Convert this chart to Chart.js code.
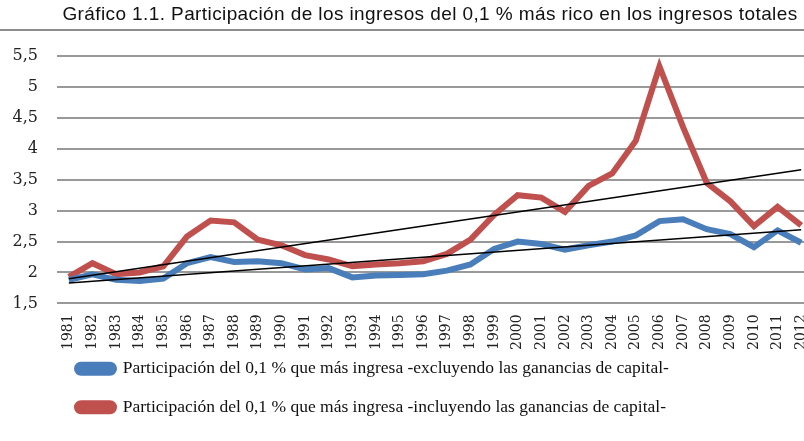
<!DOCTYPE html>
<html>
<head>
<meta charset="utf-8">
<script src="https://cdn.jsdelivr.net/npm/chart.js@4"></script>
<style>
  html, body { margin: 0; padding: 0; background: #fff; overflow: hidden; }
  #wrap { position: relative; width: 821px; height: 441px; }
  #titulo {
    position: absolute; left: 0; top: 0; width: 860px; height: 29px;
    font-family: 'Liberation Sans', Arial, sans-serif; font-size: 19px;
    letter-spacing: 0.4px; color: #111; text-align: center; line-height: 28px;
    border-bottom: 2px solid #8c8c8c; z-index: 2;
  }
</style>
</head>
<body>
<div id="wrap">
  <div id="titulo">Gráfico 1.1. Participación de los ingresos del 0,1 % más rico en los ingresos totales</div>
  <canvas id="chart"></canvas>
</div>
<script>
const years = ['1981','1982','1983','1984','1985','1986','1987','1988','1989','1990',
  '1991','1992','1993','1994','1995','1996','1997','1998','1999','2000',
  '2001','2002','2003','2004','2005','2006','2007','2008','2009','2010','2011','2012'];

const sinGanancias = [1.88, 1.97, 1.88, 1.86, 1.90, 2.15, 2.25, 2.17, 2.18, 2.15,
  2.05, 2.07, 1.92, 1.95, 1.96, 1.97, 2.03, 2.13, 2.38, 2.50,
  2.46, 2.37, 2.44, 2.50, 2.60, 2.83, 2.86, 2.70, 2.62, 2.41, 2.68, 2.48];

const conGanancias = [1.93, 2.15, 1.97, 2.00, 2.10, 2.58, 2.84, 2.81, 2.53, 2.44,
  2.28, 2.21, 2.10, 2.13, 2.15, 2.18, 2.30, 2.53, 2.93, 3.25,
  3.21, 2.98, 3.40, 3.60, 4.13, 5.33, 4.35, 3.45, 3.15, 2.75, 3.06, 2.76];

// trend lines, end points
const tendenciaCon = [1.90, 3.66];
const tendenciaSin = [1.83, 2.69];

const yTicks = [1.5, 2, 2.5, 3, 3.5, 4, 4.5, 5, 5.5];

function trend(ends) {
  const arr = years.map(() => null);
  arr[0] = ends[0];
  arr[arr.length - 1] = ends[1];
  return arr;
}

// move the legend right and up
const legendShift = {
  id: 'legendShift',
  afterLayout(chart) {
    chart.legend.left += 56;
    chart.legend.right += 56;
    chart.legend.top -= 14;
    chart.legend.bottom -= 14;
  }
};

new Chart(document.getElementById('chart'), {
  type: 'line',
  data: {
    labels: years,
    datasets: [{
      label: 'Participación del 0,1 % que más ingresa -excluyendo las ganancias de capital-',
      data: sinGanancias,
      borderColor: '#4a7ebb',
      backgroundColor: '#4a7ebb',
      borderWidth: 6,
      pointRadius: 0,
      tension: 0,
      order: 2
    }, {
      label: 'Participación del 0,1 % que más ingresa -incluyendo las ganancias de capital-',
      data: conGanancias,
      borderColor: '#c0504d',
      backgroundColor: '#c0504d',
      borderWidth: 6,
      pointRadius: 0,
      tension: 0,
      order: 3
    }, {
      label: 'tendencia con',
      data: trend(tendenciaCon),
      borderColor: '#000',
      borderWidth: 1.5,
      pointRadius: 0,
      spanGaps: true,
      order: 0
    }, {
      label: 'tendencia sin',
      data: trend(tendenciaSin),
      borderColor: '#000',
      borderWidth: 1.5,
      pointRadius: 0,
      spanGaps: true,
      order: 1
    }]
  },
  options: {
    responsive: true,
    maintainAspectRatio: false,
    animation: false,
    layout: { padding: { left: 0, right: 0, top: 56, bottom: 1 } },
    plugins: {
      legend: {
        position: 'bottom',
        align: 'start',
        labels: {
          filter: (item) => item.datasetIndex < 2,
          font: { family: 'Liberation Serif', size: 17.5 },
          color: '#111',
          boxWidth: 37,
          boxHeight: 8,
          useBorderRadius: true,
          borderRadius: 4,
          padding: 21
        }
      },
      tooltip: { enabled: false }
    },
    scales: {
      x: {
        offset: true,
        grid: { display: false },
        border: { display: false },
        ticks: {
          maxRotation: 90,
          minRotation: 90,
          autoSkip: false,
          font: { family: 'DejaVu Serif', size: 14 },
          color: '#222'
        }
      },
      y: {
        min: 1.5,
        max: 5.5,
        afterBuildTicks: (axis) => { axis.ticks = yTicks.map(v => ({ value: v })); },
        afterFit: (axis) => { axis.width = 57; },
        grid: { color: '#999', lineWidth: 2, drawTicks: false },
        border: { display: false },
        ticks: {
          padding: 19,
          font: { family: 'DejaVu Serif', size: 16 },
          color: '#222',
          callback: (v) => String(v).replace('.', ',')
        }
      }
    }
  },
  plugins: [legendShift]
});
</script>
</body>
</html>
